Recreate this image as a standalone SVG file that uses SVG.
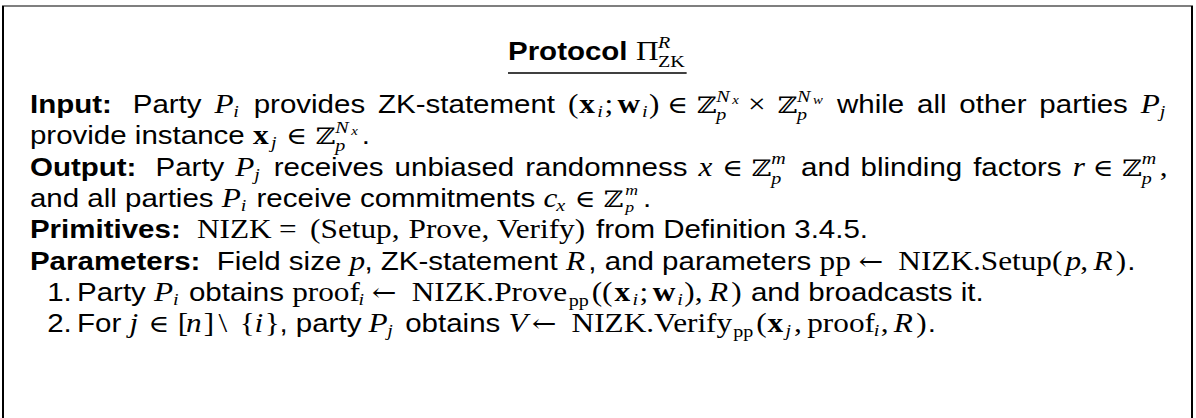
<svg xmlns="http://www.w3.org/2000/svg" width="1196" height="418" viewBox="0 0 1196 418">
  <style>
    .s { font-family: "Liberation Sans", Arial, sans-serif; font-size: 25px; fill: #000; }
    .sb { font-weight: bold; }
    .m { font-family: "Liberation Serif", "Times New Roman", serif; font-size: 26.5px; font-style: normal; font-weight: normal; }
    .mi { font-family: "Liberation Serif", "Times New Roman", serif; font-size: 26.5px; font-style: italic; font-weight: normal; }
    .mb { font-family: "Liberation Serif", "Times New Roman", serif; font-size: 26.5px; font-weight: bold; font-style: normal; }
    .sym { font-family: "DejaVu Serif", serif; font-size: 24px; }
    .arr { font-family: "DejaVu Serif", serif; font-size: 25px; }
    .bb { font-family: "DejaVu Serif", serif; font-size: 23px; }
    .sc { font-size: 17px; }
    .sct { font-size: 15px; }
    .ss { font-size: 12.5px; }
    .frame { fill: none; stroke: #000; }
  </style>

  <!-- framed protocol box (open at the bottom edge) -->
  <g id="frame">
    <line class="frame" x1="2" y1="6" x2="1193" y2="6" stroke-width="1.2"/>
    <line class="frame" x1="3" y1="6" x2="3" y2="418" stroke-width="2"/>
    <line class="frame" x1="1192" y1="6" x2="1192" y2="418" stroke-width="2"/>
  </g>

  <!-- all text is set in a horizontally widened frame -->
  <g id="content" transform="scale(1.18 1)">
    <g id="title">
      <text class="s">
        <tspan class="sb" x="430.5" y="60">Protocol</tspan>
        <tspan class="m" x="538.9" y="60">Π</tspan>
        <tspan class="mi sc" x="557.6" y="48">R</tspan>
        <tspan class="m sc" x="557.6" y="67">ZK</tspan>
      </text>
      <line x1="430.5" y1="73" x2="581.9" y2="73" stroke="#000" stroke-width="1.4"/>
    </g>

    <g id="input">
      <text class="s">
        <tspan class="sb" x="25.4" y="113">Input:</tspan>
        <tspan x="112.5" y="113">Party</tspan>
        <tspan class="mi" x="181.7" y="113">P</tspan><tspan class="mi sc" x="197.7" y="117">i</tspan>
        <tspan x="215" y="113">provides</tspan>
        <tspan x="320.4" y="113">ZK-statement</tspan>
        <tspan class="m" x="481.3" y="113">(</tspan><tspan class="mb" x="491" y="113">x</tspan><tspan class="mi sc" x="506.2" y="117">i</tspan><tspan class="m" x="512.2" y="113">;</tspan><tspan class="mb" x="523.3" y="113">w</tspan><tspan class="mi sc" x="544.1" y="117">i</tspan><tspan class="m" x="550.1" y="113">)</tspan>
        <tspan class="sym" x="565.5" y="113">∈</tspan>
        <tspan class="bb" x="590.4" y="113">ℤ</tspan><tspan class="mi sc" x="607" y="102">N</tspan><tspan class="mi ss" x="620.5" y="104.5">x</tspan><tspan class="mi sc" x="607" y="120.5">p</tspan>
        <tspan class="m" x="633.8" y="113">×</tspan>
        <tspan class="bb" x="658.8" y="113">ℤ</tspan><tspan class="mi sc" x="675.5" y="102">N</tspan><tspan class="mi ss" x="689" y="104.5">w</tspan><tspan class="mi sc" x="675.5" y="120.5">p</tspan>
        <tspan x="709.3" y="113">while</tspan>
        <tspan x="777.2" y="113">all</tspan>
        <tspan x="813" y="113">other</tspan>
        <tspan x="880.8" y="113">parties</tspan>
        <tspan class="mi" x="966.7" y="113">P</tspan><tspan class="mi sc" x="982.8" y="117">j</tspan>
      </text>
      <text class="s">
        <tspan x="25.4" y="144">provide instance</tspan>
        <tspan class="mb" x="214.4" y="144">x</tspan><tspan class="mi sc" x="229.6" y="148">j</tspan>
        <tspan class="sym" x="242.6" y="144">∈</tspan>
        <tspan class="bb" x="267.4" y="144">ℤ</tspan><tspan class="mi sc" x="284.1" y="133">N</tspan><tspan class="mi ss" x="297.6" y="135.5">x</tspan><tspan class="mi sc" x="284.1" y="151.5">p</tspan>
        <tspan x="306.6" y="144">.</tspan>
      </text>
    </g>

    <g id="output">
      <text class="s">
        <tspan class="sb" x="25.4" y="176">Output:</tspan>
        <tspan x="131.8" y="176">Party</tspan>
        <tspan class="mi" x="199.4" y="176">P</tspan><tspan class="mi sc" x="215.5" y="180">j</tspan>
        <tspan x="232" y="176">receives</tspan>
        <tspan x="334.4" y="176">unbiased</tspan>
        <tspan x="445.1" y="176">randomness</tspan>
        <tspan class="mi" x="592" y="176">x</tspan>
        <tspan class="sym" x="612.1" y="176">∈</tspan>
        <tspan class="bb" x="636.9" y="176">ℤ</tspan><tspan class="mi sc" x="653.6" y="164.5">m</tspan><tspan class="mi sc" x="653.6" y="184">p</tspan>
        <tspan x="678.9" y="176">and</tspan>
        <tspan x="729.3" y="176">blinding</tspan>
        <tspan x="824.7" y="176">factors</tspan>
        <tspan class="mi" x="909.1" y="176">r</tspan>
        <tspan class="sym" x="926.1" y="176">∈</tspan>
        <tspan class="bb" x="950.9" y="176">ℤ</tspan><tspan class="mi sc" x="967.6" y="164.5">m</tspan><tspan class="mi sc" x="967.6" y="184">p</tspan>
        <tspan class="m" x="982.9" y="176">,</tspan>
      </text>
      <text class="s">
        <tspan x="25.4" y="207">and all parties</tspan>
        <tspan class="mi" x="188" y="207">P</tspan><tspan class="mi sc" x="204" y="211">i</tspan>
        <tspan x="217.4" y="207">receive</tspan>
        <tspan x="305" y="207">commitments</tspan>
        <tspan class="mi" x="460.5" y="207">c</tspan><tspan class="mi sc" x="471.4" y="211">x</tspan>
        <tspan class="sym" x="487.1" y="207">∈</tspan>
        <tspan class="bb" x="511.4" y="207">ℤ</tspan><tspan class="mi sct" x="529.8" y="195">m</tspan><tspan class="mi sct" x="529.8" y="212">p</tspan>
        <tspan x="545" y="207">.</tspan>
      </text>
    </g>

    <g id="primitives">
      <text class="s">
        <tspan class="sb" x="25.4" y="238">Primitives:</tspan>
        <tspan class="m" x="166.9" y="238">NIZK</tspan>
        <tspan class="m" x="236.4" y="238">=</tspan>
        <tspan class="m" x="262.8" y="238">(Setup,</tspan>
        <tspan class="m" x="346.2" y="238">Prove,</tspan>
        <tspan class="m" x="420.9" y="238">Verify)</tspan>
        <tspan x="505.1" y="238">from Definition 3.4.5.</tspan>
      </text>
    </g>

    <g id="parameters">
      <text class="s">
        <tspan class="sb" x="25.4" y="270">Parameters:</tspan>
        <tspan x="183.7" y="270">Field size</tspan>
        <tspan class="mi" x="296.2" y="270">p</tspan><tspan x="308.8" y="270">,</tspan>
        <tspan x="322.7" y="270">ZK-statement</tspan>
        <tspan class="mi" x="479.7" y="270">R</tspan><tspan x="498.6" y="270">,</tspan>
        <tspan x="512.5" y="270">and parameters</tspan>
        <tspan class="m" x="694.6" y="270">pp</tspan>
        <tspan class="arr" x="727.5" y="270">←</tspan>
        <tspan class="m" x="761.3" y="270">NIZK.Setup(</tspan><tspan class="mi" x="903" y="270">p</tspan><tspan class="m" x="915.5" y="270">,</tspan>
        <tspan class="mi" x="926.7" y="270">R</tspan><tspan class="m" x="945.6" y="270">)</tspan><tspan x="955.4" y="270">.</tspan>
      </text>
    </g>

    <g id="step1">
      <text class="s">
        <tspan x="40" y="301">1.</tspan>
        <tspan x="65.3" y="301">Party</tspan>
        <tspan class="mi" x="130.6" y="301">P</tspan><tspan class="mi sc" x="146.7" y="305">i</tspan>
        <tspan x="160.1" y="301">obtains</tspan>
        <tspan class="m" x="247.6" y="301">proof</tspan><tspan class="mi sc" x="303.9" y="305">i</tspan>
        <tspan class="arr" x="315.1" y="301">←</tspan>
        <tspan class="m" x="348.9" y="301">NIZK.Prove</tspan><tspan class="m sc" x="481.9" y="306">pp</tspan>
        <tspan class="m" x="501.4" y="301">((</tspan><tspan class="mb" x="520.8" y="301">x</tspan><tspan class="mi sc" x="536" y="305">i</tspan><tspan class="m" x="542" y="301">;</tspan>
        <tspan class="mb" x="553.1" y="301">w</tspan><tspan class="mi sc" x="573.9" y="305">i</tspan><tspan class="m" x="579.9" y="301">),</tspan>
        <tspan class="mi" x="600.8" y="301">R</tspan><tspan class="m" x="619.7" y="301">)</tspan>
        <tspan x="636.4" y="301">and broadcasts it.</tspan>
      </text>
    </g>

    <g id="step2">
      <text class="s">
        <tspan x="40" y="332">2.</tspan>
        <tspan x="65.3" y="332">For</tspan>
        <tspan class="mi" x="109.8" y="332">j</tspan>
        <tspan class="sym" x="125.8" y="332">∈</tspan>
        <tspan class="m" x="150.6" y="332">[</tspan><tspan class="mi" x="157.6" y="332">n</tspan><tspan class="m" x="172.6" y="332">]</tspan>
        <tspan class="m" x="185.1" y="332">\</tspan>
        <tspan class="m" x="203.1" y="332">{</tspan><tspan class="mi" x="215.6" y="332">i</tspan><tspan class="m" x="224.3" y="332">}</tspan><tspan x="236.8" y="332">,</tspan>
        <tspan x="250.7" y="332">party</tspan>
        <tspan class="mi" x="312.2" y="332">P</tspan><tspan class="mi sc" x="328.2" y="336">j</tspan>
        <tspan x="343.4" y="332">obtains</tspan>
        <tspan class="mi" x="430.9" y="332">V</tspan>
        <tspan class="arr" x="450.7" y="332">←</tspan>
        <tspan class="m" x="484.4" y="332">NIZK.Verify</tspan><tspan class="m sc" x="621.3" y="337">pp</tspan>
        <tspan class="m" x="640.8" y="332">(</tspan><tspan class="mb" x="650.5" y="332">x</tspan><tspan class="mi sc" x="665.6" y="336">j</tspan><tspan class="m" x="672.9" y="332">,</tspan>
        <tspan class="m" x="684.1" y="332">proof</tspan><tspan class="mi sc" x="740.4" y="336">i</tspan><tspan class="m" x="746.4" y="332">,</tspan>
        <tspan class="mi" x="757.5" y="332">R</tspan><tspan class="m" x="776.5" y="332">)</tspan><tspan x="786.2" y="332">.</tspan>
      </text>
    </g>
  </g>
</svg>
